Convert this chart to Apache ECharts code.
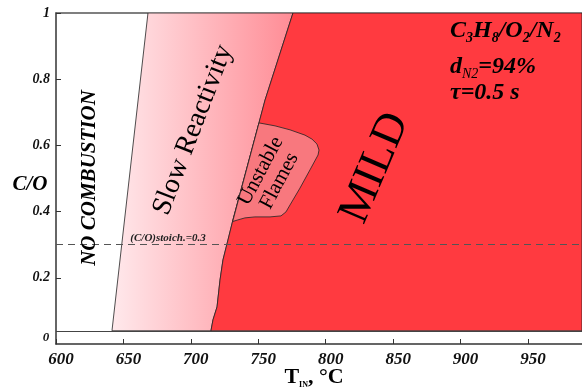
<!DOCTYPE html>
<html><head><meta charset="utf-8">
<script src="https://cdn.jsdelivr.net/npm/echarts@6/dist/echarts.min.js"></script>
<style>html,body{margin:0;padding:0;background:#fff}#c{width:582px;height:387px}</style>
</head><body><div id="c"></div>
<script>
// ---- data (T_IN in °C, C/O) ----
const xRange = [600, 990];
const xInterval = 50;
const yRange = [0, 1];
const yInterval = 0.2;
const floorCO = 0.04;
const stoichCO = 0.3;
// boundary between "No combustion" and "Slow reactivity" (bottom -> top)
const noCombustionEdge = [[641.5, 0.04], [668.2, 1.0]];
// boundary between "Slow reactivity" and "MILD"/"Unstable" (top -> bottom)
const mildEdge = [[775.7, 1.0], [755.0, 0.737], [750.5, 0.668], [731.2, 0.375], [727.5, 0.314],
                  [723.8, 0.254], [721.6, 0.193], [719.4, 0.112], [716.4, 0.073], [714.9, 0.04]];
// "Unstable flames" island
const unstableFlames = [[750.5, 0.668], [762.4, 0.659], [773.5, 0.647], [784.6, 0.631], [789.8, 0.619],
                        [793.5, 0.604], [795.0, 0.586], [794.3, 0.571], [788.3, 0.526], [780.9, 0.471],
                        [773.5, 0.420], [770.5, 0.399], [766.8, 0.387], [758.7, 0.384], [747.5, 0.384],
                        [740.1, 0.381], [734.9, 0.375], [731.0, 0.370]];

const SERIF = '"Liberation Serif", "Times New Roman", serif';

const slowPoly = noCombustionEdge.concat(mildEdge);
const mildPoly = mildEdge.concat([[xRange[1], floorCO], [xRange[1], yRange[1]]]);

function polySeries(name, pts, styleFn) {
  return {
    type: 'custom', name: name, data: pts, silent: true, clip: true,
    renderItem: function (params, api) {
      if (params.dataIndex !== 0) return null;
      const points = pts.map(p => api.coord(p));
      return { type: 'polygon', shape: { points: points }, style: styleFn(api) };
    }
  };
}

const chart = echarts.init(document.getElementById('c'), null, { renderer: 'canvas' });
const labelStyle = { fontFamily: SERIF, fontWeight: 'bold', fontStyle: 'italic', color: '#111' };

function txt(x, y, rot, style) {
  return { type: 'text', x: x, y: y, rotation: rot * Math.PI / 180, z: 100, zlevel: 0, silent: true,
           style: Object.assign({ fill: '#000', align: 'center', verticalAlign: 'middle' }, style) };
}

chart.setOption({
  animation: false,
  backgroundColor: '#fff',
  grid: { left: 56, right: 0, top: 13, bottom: 43, containLabel: false },
  xAxis: [{
    type: 'value', min: xRange[0], max: xRange[1], interval: xInterval,
    axisLine: { show: true, onZero: false, lineStyle: { color: '#333', width: 1.5 } },
    axisTick: { show: true, inside: true, length: 5, lineStyle: { color: '#333' } },
    axisLabel: Object.assign({ fontSize: 17, margin: 7, showMaxLabel: false, padding: [0, 0, 0, 10] }, labelStyle),
    splitLine: { show: false }
  }, {
    type: 'value', position: 'top', min: xRange[0], max: xRange[1],
    axisLine: { show: true, onZero: false, lineStyle: { color: '#555', width: 1.5 } },
    axisTick: { show: false }, axisLabel: { show: false }, splitLine: { show: false }
  }],
  yAxis: {
    type: 'value', min: yRange[0], max: yRange[1], interval: yInterval,
    axisLine: { show: true, onZero: false, lineStyle: { color: '#333', width: 1.5 } },
    axisTick: { show: true, inside: true, length: 5, lineStyle: { color: '#333' } },
    axisLabel: Object.assign({ fontSize: 14, margin: 6, showMinLabel: false, padding: [8, 0, 0, 0] }, labelStyle),
    splitLine: { show: false }
  },
  series: [
    polySeries('Slow Reactivity', slowPoly, function (api) {
      const x0 = api.coord([noCombustionEdge[0][0], 0])[0];
      const x1 = api.coord([mildEdge[0][0], 0])[0];
      return {
        fill: new echarts.graphic.LinearGradient(x0, 0, x1, 0, [
          { offset: 0, color: '#ffe9ec' }, { offset: 1, color: '#ff8c95' }], true),
        stroke: '#222', lineWidth: 0.8
      };
    }),
    polySeries('MILD', mildPoly, function () {
      return { fill: '#ff3a40', stroke: '#222', lineWidth: 0.8 };
    }),
    polySeries('Unstable Flames', unstableFlames, function () {
      return { fill: '#f8787e', stroke: '#222', lineWidth: 0.8 };
    }),
    {
      type: 'line', data: [], silent: true,
      markLine: {
        silent: true, symbol: 'none', animation: false, label: { show: false },
        data: [
          { yAxis: stoichCO, lineStyle: { color: '#555', type: [7, 5], width: 1 } },
          { yAxis: floorCO, lineStyle: { color: '#444', type: 'solid', width: 1 } }
        ]
      }
    }
  ],
  graphic: { elements: [
    txt(46, 338, 0, { text: '0', font: 'italic bold 13px ' + SERIF, fill: '#111' }),
    txt(30, 185, 0, { text: 'C/O', font: 'italic bold 21px ' + SERIF }),
    txt(314, 377, 0, {
      text: '{b|T}{s|IN}{b|, °C}',
      rich: {
        b: { font: 'bold 22px ' + SERIF, fill: '#000', lineHeight: 24 },
        s: { font: 'bold 8px ' + SERIF, fill: '#000', lineHeight: 8, verticalAlign: 'bottom' }
      } }),
    txt(450, 31, 0, {
      text: '{b|C}{s|3}{b|H}{s|8}{b|/O}{s|2}{b|/N}{s|2}', align: 'left',
      rich: {
        b: { font: 'italic bold 24px ' + SERIF, fill: '#000', lineHeight: 28 },
        s: { font: 'italic bold 14px ' + SERIF, fill: '#000', lineHeight: 13, verticalAlign: 'bottom' }
      } }),
    txt(450, 67, 0, {
      text: '{b|d}{s|N2}{b|=94%}', align: 'left',
      rich: {
        b: { font: 'italic bold 24px ' + SERIF, fill: '#000', lineHeight: 28 },
        s: { font: 'italic 14px ' + SERIF, fill: '#000', lineHeight: 15, verticalAlign: 'bottom' }
      } }),
    txt(450, 93, 0, { text: 'τ=0.5 s', font: 'italic bold 24px ' + SERIF, align: 'left' }),
    txt(168, 238, 0, { text: '(C/O)stoich.=0.3', font: 'italic bold 11px ' + SERIF, fill: '#222' }),
    txt(90, 178, 90, { text: 'NO COMBUSTION', font: 'italic bold 21px ' + SERIF }),
    txt(193, 130, 69, { text: 'Slow Reactivity', font: '28px ' + SERIF }),
    txt(270, 176, 62, { text: 'Unstable\nFlames', font: '21px ' + SERIF, lineHeight: 21 }),
    txt(375, 168, 67, { text: 'MILD', font: '45px ' + SERIF })
  ] }
});
</script>
</body></html>
